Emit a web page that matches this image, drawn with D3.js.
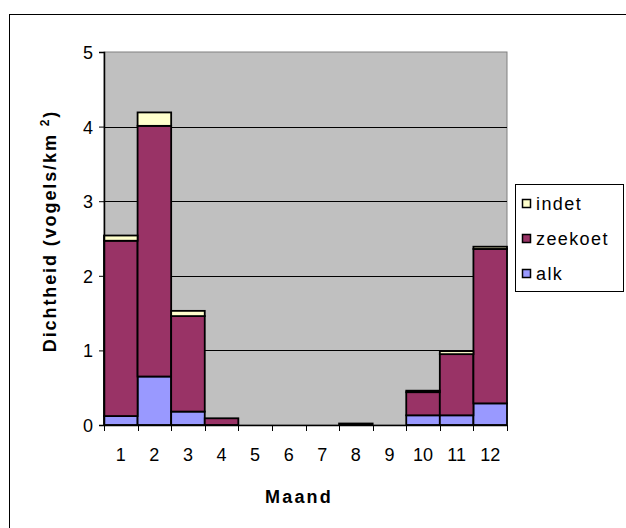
<!DOCTYPE html>
<html>
<head>
<meta charset="utf-8">
<script src="https://cdn.jsdelivr.net/npm/d3@7"></script>
<style>
  html, body { margin: 0; padding: 0; background: #fff; }
  svg { display: block; font-family: Arial, "Liberation Sans", sans-serif; }
</style>
</head>
<body>
<svg id="chart" width="626" height="528"></svg>
<script>
// Monthly density of auks (vogels/km²), stacked by species
const months = ["1", "2", "3", "4", "5", "6", "7", "8", "9", "10", "11", "12"];
const alk     = [0.12, 0.65, 0.18, 0, 0, 0, 0, 0, 0, 0.13, 0.13, 0.29];
const zeekoet = [2.35, 3.36, 1.28, 0.09, 0, 0, 0, 0.02, 0, 0.31, 0.82, 2.07];
const indet   = [0.07, 0.18, 0.07, 0, 0, 0, 0, 0, 0, 0.02, 0.04, 0.03];
const seriesNames = ["alk", "zeekoet", "indet"];
const seriesColors = ["#9999FF", "#993366", "#FFFFCC"];
const yTicks = [0, 1, 2, 3, 4, 5];

const rows = months.map((m, i) => ({ month: m, alk: alk[i], zeekoet: zeekoet[i], indet: indet[i] }));

const FONT = "Arial, 'Liberation Sans', sans-serif";
const svg = d3.select("#chart");

// outer chart frame (runs past the right and bottom edges)
svg.append("rect")
  .attr("x", 9.5).attr("y", 14.5)
  .attr("width", 700).attr("height", 600)
  .attr("fill", "#fff").attr("stroke", "#000").attr("stroke-width", 1);

const plot = { left: 104, top: 52, right: 507, bottom: 425 };

const x = d3.scaleBand().domain(months)
  .range([plot.left, plot.right]).paddingInner(0).paddingOuter(0);
const y = d3.scaleLinear().domain([0, 5]).range([plot.bottom, plot.top]);

// plot background
svg.append("rect")
  .attr("x", plot.left).attr("y", plot.top)
  .attr("width", plot.right - plot.left).attr("height", plot.bottom - plot.top)
  .attr("fill", "#C0C0C0").attr("stroke", "#808080").attr("stroke-width", 1);

// horizontal gridlines
svg.append("g").selectAll("line")
  .data(yTicks.filter(t => t > 0 && t < 5))
  .join("line")
  .attr("x1", plot.left).attr("x2", plot.right)
  .attr("y1", d => Math.round(y(d)) + 0.5).attr("y2", d => Math.round(y(d)) + 0.5)
  .attr("stroke", "#000").attr("stroke-width", 1);

// stacked bars
const stacked = d3.stack().keys(seriesNames)(rows);
const color = d3.scaleOrdinal().domain(seriesNames).range(seriesColors);

svg.append("g").selectAll("g")
  .data(stacked)
  .join("g")
  .attr("fill", d => color(d.key))
  .selectAll("rect")
  .data(d => d.filter(s => s[1] - s[0] > 0))
  .join("rect")
  .attr("x", d => x(d.data.month))
  .attr("width", x.bandwidth())
  .attr("y", d => y(d[1]))
  .attr("height", d => y(d[0]) - y(d[1]))
  .attr("stroke", "#000").attr("stroke-width", 1.8);

// y axis
const yAxis = d3.axisLeft(y).tickValues(yTicks).tickSize(5).tickPadding(6).tickFormat(d3.format("d"));
const gy = svg.append("g").attr("transform", `translate(${plot.left},0)`).call(yAxis);
gy.select(".domain").attr("stroke", "#000").attr("stroke-width", 1.5);
gy.selectAll(".tick line").attr("stroke", "#000");
gy.selectAll(".tick text").attr("font-size", 18).attr("fill", "#000")
  .attr("font-family", FONT).attr("dy", "0.36em");

// x axis with ticks on category boundaries
const gx = svg.append("g").attr("transform", `translate(0,${plot.bottom})`);
gx.append("line")
  .attr("x1", plot.left).attr("x2", plot.right).attr("y1", 0.5).attr("y2", 0.5)
  .attr("stroke", "#000").attr("stroke-width", 1.5);
const bounds = months.map(m => x(m)).concat([x(months[months.length - 1]) + x.bandwidth()]);
gx.selectAll("line.tk").data(bounds).join("line").attr("class", "tk")
  .attr("x1", d => Math.round(d) + 0.5).attr("x2", d => Math.round(d) + 0.5)
  .attr("y1", 0).attr("y2", 6).attr("stroke", "#000");
gx.selectAll("text").data(months).join("text")
  .attr("x", d => x(d) + x.bandwidth() / 2).attr("y", 36)
  .attr("text-anchor", "middle").attr("font-size", 18).attr("fill", "#000")
  .text(d => d);

// axis titles
svg.append("text")
  .attr("x", 299).attr("y", 503)
  .attr("text-anchor", "middle").attr("font-size", 18).attr("font-weight", "bold")
  .attr("letter-spacing", 2.2)
  .text("Maand");

const yt = svg.append("text")
  .attr("transform", "translate(56,231) rotate(-90)")
  .attr("text-anchor", "middle").attr("font-size", 18).attr("font-weight", "bold")
  .attr("letter-spacing", 1.9);
yt.append("tspan").text("Dichtheid (vogels/km ");
yt.append("tspan").attr("dy", -7).attr("font-size", 12).text("2");
yt.append("tspan").attr("dy", 7).text(")");

// legend
const legend = svg.append("g");
legend.append("rect")
  .attr("x", 515.5).attr("y", 184.5).attr("width", 108).attr("height", 107)
  .attr("fill", "#fff").attr("stroke", "#000").attr("stroke-width", 1);
const legendOrder = ["indet", "zeekoet", "alk"];
const legendY = [204, 239, 274];
legendOrder.forEach((name, i) => {
  legend.append("rect")
    .attr("x", 522.5).attr("y", legendY[i] - 4.5).attr("width", 8).attr("height", 8)
    .attr("fill", color(name)).attr("stroke", "#000").attr("stroke-width", 1.5);
  legend.append("text")
    .attr("x", 536).attr("y", legendY[i] + 6)
    .attr("font-size", 18).attr("fill", "#000").attr("letter-spacing", 1.4)
    .text(name);
});
</script>
</body>
</html>
